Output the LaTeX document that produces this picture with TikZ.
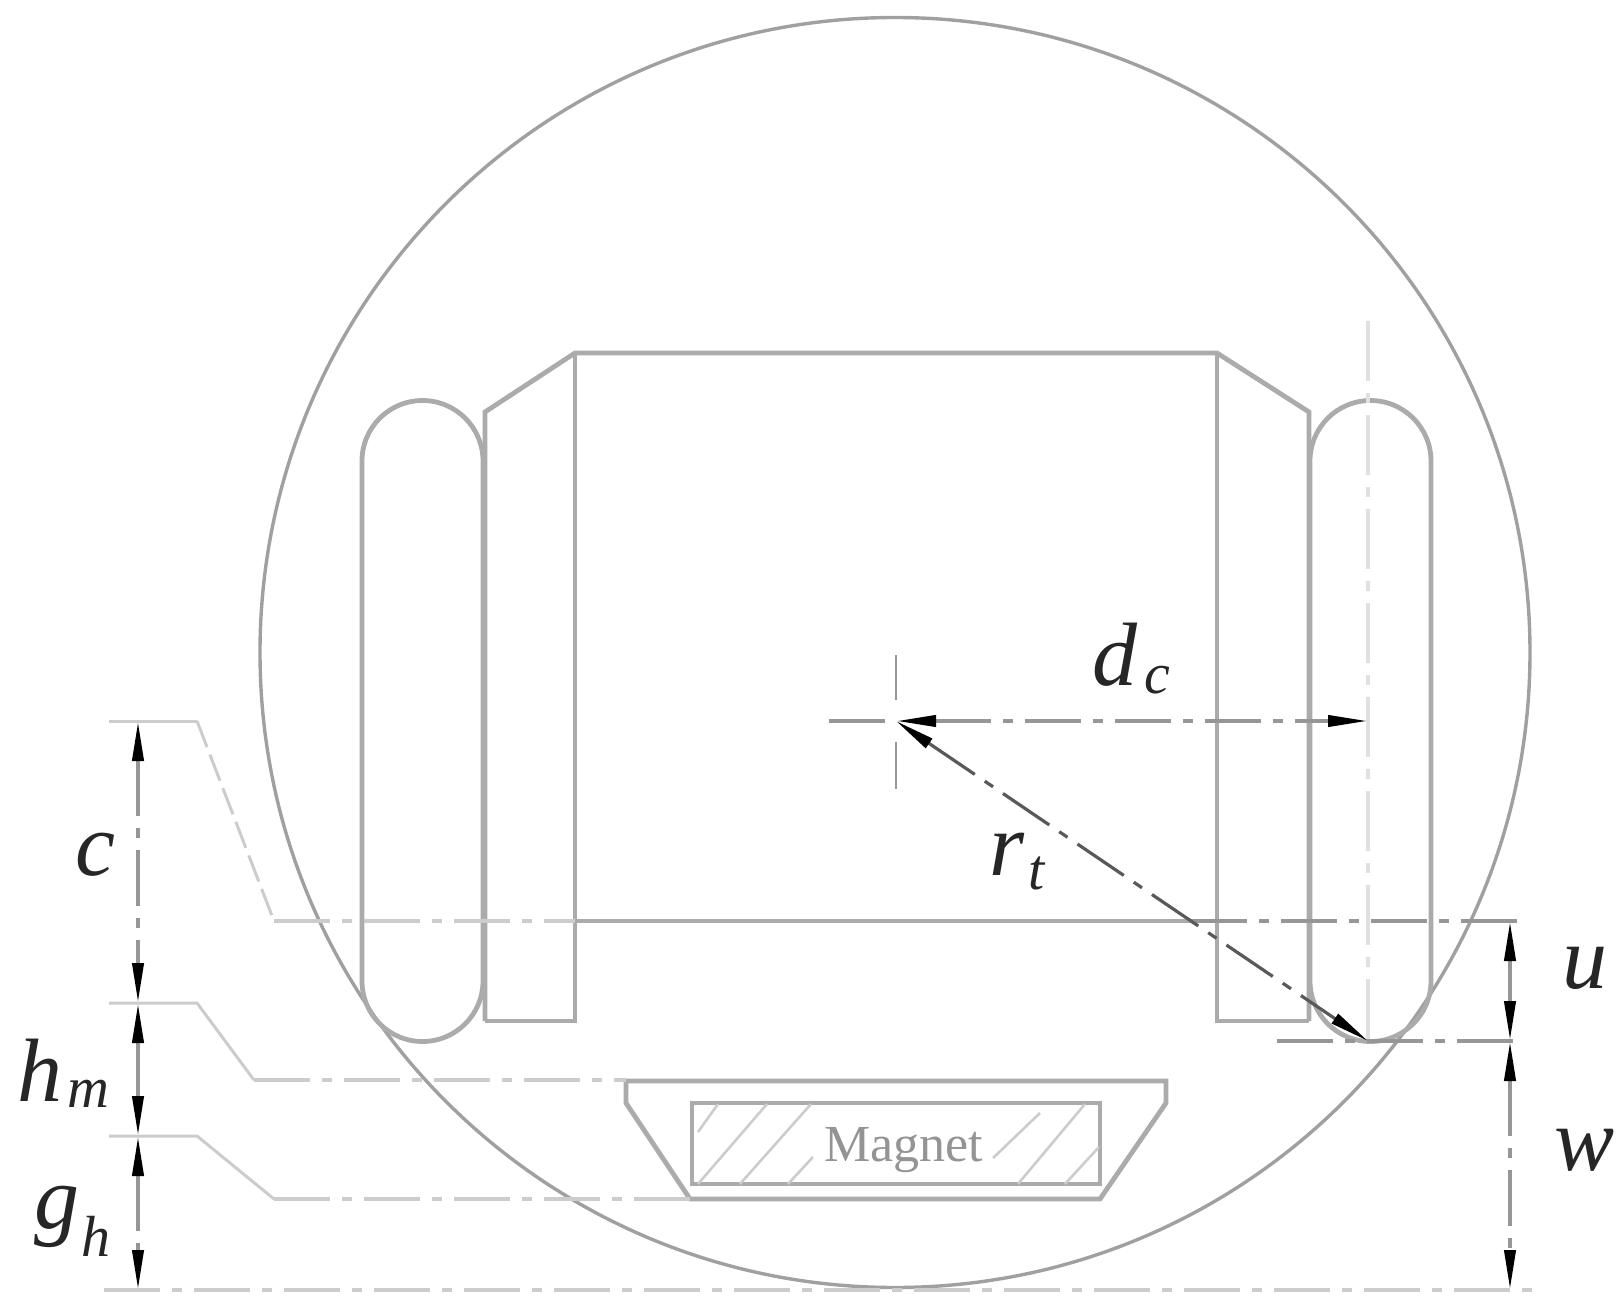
\documentclass[tikz,border=0pt]{standalone}
\usepackage{fontspec}
\setmainfont{Liberation Serif}
\usetikzlibrary{arrows.meta}
\definecolor{body}{HTML}{ABABAB}
\definecolor{rim}{HTML}{A0A0A0}
\definecolor{lead}{HTML}{CCCCCC}
\definecolor{dim}{HTML}{969696}
\definecolor{center}{HTML}{E0E0E0}
\tikzset{
  part/.style={draw=body,line width=2.4pt,line join=miter},
  thin part/.style={draw=rim,line width=1.7pt},
  leader/.style={draw=lead,line width=1.5pt},
  leaderdash/.style={draw=lead,line width=1.8pt,dash pattern=on 28pt off 6pt on 5pt off 6pt},
  axisline/.style={draw=dim,line width=2.2pt,dash pattern=on 28pt off 6pt on 5pt off 6pt},
  axislight/.style={draw=center,line width=2.4pt,dash pattern=on 30pt off 6pt on 5pt off 6pt},
  headtip/.tip={Stealth[inset=0pt,length=20pt,width=5.5pt,black,fill=black]},
  dimline/.style={draw=dim,line width=2pt,dash pattern=on 28pt off 6pt on 5pt off 6pt,
    headtip-headtip},
  hatchline/.style={draw=lead,line width=1.3pt},
  label/.style={font=\fontsize{45}{45}\selectfont\itshape,text=black!85,inner sep=0pt},
  sublabel/.style={font=\fontsize{29}{29}\selectfont\itshape,text=black!85,inner sep=0pt},
}
\begin{document}
\begin{tikzpicture}[x=0.5pt,y=-0.5pt]
\useasboundingbox (0,0) rectangle (1624,1311);
% named reference points
\coordinate (cen) at (896,721);
\coordinate (axt) at (1368,721);
\coordinate (tip) at (1368,1041);
\coordinate (cl) at (138,721);
\coordinate (hl) at (138,1003);
\coordinate (gl) at (138,1136);
\coordinate (bl) at (138,1290);
\coordinate (ut) at (1510,921);
\coordinate (um) at (1510,1041);
\coordinate (ub) at (1510,1290);
% rim
\draw[thin part] (895,652.5) circle (635);
% stator block
\draw[part] (485,1021) -- (485,412) -- (575,353) -- (1217,353) -- (1309,412) -- (1309,1021);
\draw[part] (575,353) -- (575,1021) -- (485,1021);
\draw[part] (1217,353) -- (1217,1021) -- (1309,1021);
\draw[part] (575,921) -- (1191,921);
% coils
\draw[part] (362,461) arc[start angle=180,end angle=360,radius=60.5] -- (483,981) arc[start angle=0,end angle=180,radius=60.5] -- cycle;
\draw[part] (1310,461) arc[start angle=180,end angle=360,radius=60.5] -- (1431,981) arc[start angle=0,end angle=180,radius=60.5] -- cycle;
% magnet carrier
\draw[part] (626,1103) -- (626,1081) -- (1166,1081) -- (1166,1103) -- (1100,1199) -- (690,1199) -- cycle;
\draw[part] (692,1103) rectangle (1100,1184);
% hatching
\foreach \a/\b/\c/\d in {718/1104/698/1132, 767/1104/698/1184, 811/1104/740/1184, 813/1157/788/1184, 1040/1113/993/1158, 1085/1104/1018/1184, 1099/1147/1065/1184}
  \draw[hatchline] (\a,\b) -- (\c,\d);
\node[font=\fontsize{26}{26}\selectfont,text=black!42,inner sep=0pt] (magnet) at (904,1150) {Magnet};
% centre lines
\draw[axislight] (1368,321) -- (tip);
\draw[draw=dim,line width=1.4pt] (896,655) -- (896,700);
\draw[draw=dim,line width=1.4pt] (896,742) -- (896,789);
% leaders
\draw[leader] (109,721) -- (197,721);
\draw[leader,dash pattern=on 14pt off 4pt] (197,721) -- (274,921);
\draw[leaderdash] (274,921) -- (575,921);
\draw[leader] (109,1003) -- (197,1003) -- (254,1080);
\draw[leaderdash] (254,1080) -- (626,1080);
\draw[leader] (109,1136) -- (197,1136) -- (274,1199);
\draw[leaderdash] (274,1199) -- (690,1199);
\draw[leaderdash,line width=2.4pt] (104,1290) -- (1538,1290);
% right extension lines
\draw[axisline] (1191,921) -- (1525,921);
\draw[axisline] (1277,1041) -- (1522,1041);
% dimensions
\draw[dimline] (cl) -- (hl);
\draw[dimline] (hl) -- (gl);
\draw[dimline] (gl) -- (bl);
\draw[dimline] (ut) -- (um);
\draw[dimline] (um) -- (ub);
\draw[axisline] (829,721) -- (cen);
\draw[dimline] (cen) -- (axt);
\draw[dimline,draw=black!65,line width=1.6pt] (cen) -- (tip);
% labels
\node[label] (c) at (95,855) {c};
\node[label] (h) at (40,1070) {h};
\node[sublabel] (hm) at (88,1094) {m};
\node[label] (g) at (57,1217) {g};
\node[sublabel] (gh) at (96,1236) {h};
\node[label] (d) at (1115,655) {d};
\node[sublabel] (dc) at (1157,680) {c};
\node[label] (r) at (1007,854) {r};
\node[sublabel] (rt) at (1037,873) {t};
\node[label] (u) at (1585,968) {u};
\node[label] (w) at (1585,1150) {w};
\end{tikzpicture}
\end{document}
